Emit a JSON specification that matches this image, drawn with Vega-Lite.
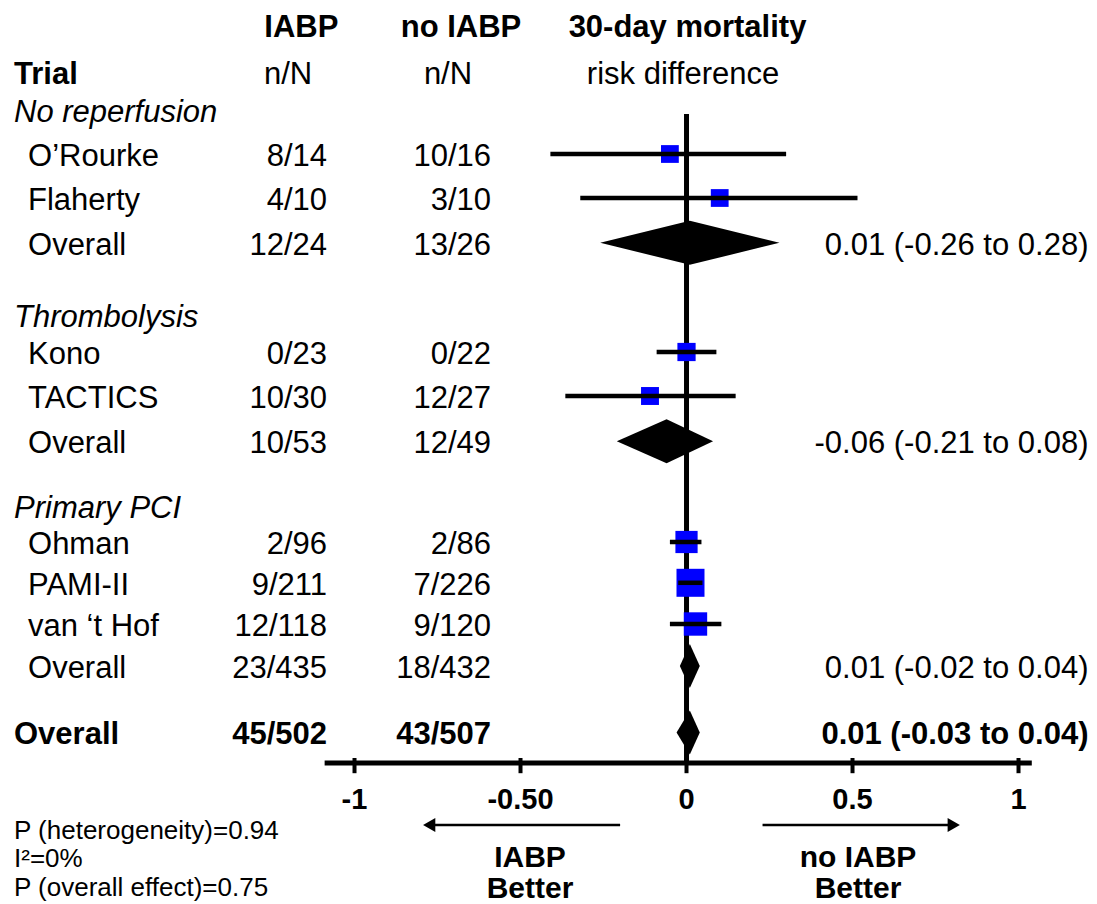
{
  "$schema": "https://vega.github.io/schema/vega-lite/v6.json",
  "width": 1097,
  "height": 904,
  "autosize": {"type": "none"},
  "padding": 0,
  "background": "white",
  "config": {"view": {"stroke": null}, "font": "Liberation Sans", "text": {"font": "Liberation Sans", "fontSize": 31, "color": "black", "baseline": "middle"}},
  "datasets": {
    "rows": [
      {"id": "g1", "label": "No reperfusion", "kind": "group", "row": 2.75},
      {"id": "orourke", "label": "O’Rourke", "kind": "trial", "row": 3.85, "iabp": "8/14", "noiabp": "10/16", "rd": -0.05, "lo": -0.41, "hi": 0.30, "weight": 1.5},
      {"id": "flaherty", "label": "Flaherty", "kind": "trial", "row": 4.95, "iabp": "4/10", "noiabp": "3/10", "rd": 0.10, "lo": -0.32, "hi": 0.515, "weight": 1.5},
      {"id": "ov1", "label": "Overall", "kind": "subtotal", "row": 6.07, "iabp": "12/24", "noiabp": "13/26", "rd": 0.01, "lo": -0.26, "hi": 0.28, "result": "0.01 (-0.26 to 0.28)"},
      {"id": "g2", "label": "Thrombolysis", "kind": "group", "row": 7.875},
      {"id": "kono", "label": "Kono", "kind": "trial", "row": 8.8, "iabp": "0/23", "noiabp": "0/22", "rd": 0.0, "lo": -0.09, "hi": 0.09, "weight": 3},
      {"id": "tactics", "label": "TACTICS", "kind": "trial", "row": 9.9, "iabp": "10/30", "noiabp": "12/27", "rd": -0.11, "lo": -0.365, "hi": 0.148, "weight": 2},
      {"id": "ov2", "label": "Overall", "kind": "subtotal", "row": 11.03, "iabp": "10/53", "noiabp": "12/49", "rd": -0.06, "lo": -0.21, "hi": 0.08, "result": "-0.06 (-0.21 to 0.08)"},
      {"id": "g3", "label": "Primary PCI", "kind": "group", "row": 12.65},
      {"id": "ohman", "label": "Ohman", "kind": "trial", "row": 13.55, "iabp": "2/96", "noiabp": "2/86", "rd": 0.0, "lo": -0.05, "hi": 0.045, "weight": 18},
      {"id": "pami", "label": "PAMI-II", "kind": "trial", "row": 14.57, "iabp": "9/211", "noiabp": "7/226", "rd": 0.012, "lo": -0.025, "hi": 0.048, "weight": 45},
      {"id": "vanthof", "label": "van ‘t Hof", "kind": "trial", "row": 15.6, "iabp": "12/118", "noiabp": "9/120", "rd": 0.027, "lo": -0.05, "hi": 0.105, "weight": 23},
      {"id": "ov3", "label": "Overall", "kind": "subtotal", "row": 16.65, "iabp": "23/435", "noiabp": "18/432", "rd": 0.01, "lo": -0.02, "hi": 0.04, "result": "0.01 (-0.02 to 0.04)"},
      {"id": "total", "label": "Overall", "kind": "total", "row": 18.31, "iabp": "45/502", "noiabp": "43/507", "rd": 0.01, "lo": -0.03, "hi": 0.04, "result": "0.01 (-0.03 to 0.04)"}
    ],
    "ticks": [
      {"tick": -1, "label": "-1"},
      {"tick": -0.5, "label": "-0.50"},
      {"tick": 0, "label": "0"},
      {"tick": 0.5, "label": "0.5"},
      {"tick": 1, "label": "1"}
    ]
  },
  "encoding": {
    "x": {"type": "quantitative", "scale": {"type": "linear", "domain": [-2.0678, 1.2364], "nice": false, "zero": false}, "axis": null},
    "y": {"type": "quantitative", "scale": {"type": "linear", "domain": [0, 22.6], "nice": false, "zero": false, "reverse": true}, "axis": null}
  },
  "layer": [
    {
      "data": {"values": [{}]},
      "mark": {"type": "rule", "color": "black", "strokeWidth": 5},
      "encoding": {"x": {"datum": 0, "type": "quantitative"}, "y": {"datum": 2.85, "type": "quantitative"}, "y2": {"datum": 19.075}}
    },
    {
      "data": {"values": [{}]},
      "mark": {"type": "rule", "color": "black", "strokeWidth": 5},
      "encoding": {"x": {"datum": -1.09, "type": "quantitative"}, "x2": {"datum": 1.04}, "y": {"datum": 19.075, "type": "quantitative"}}
    },
    {
      "data": {"name": "ticks"},
      "mark": {"type": "rule", "color": "black", "strokeWidth": 4},
      "encoding": {"x": {"field": "tick", "type": "quantitative"}, "y": {"datum": 18.95, "type": "quantitative"}, "y2": {"datum": 19.33}}
    },
    {
      "data": {"name": "ticks"},
      "mark": {"type": "text", "fontWeight": "bold", "fontSize": 29, "align": "center"},
      "encoding": {"x": {"field": "tick", "type": "quantitative"}, "y": {"datum": 20.0, "type": "quantitative"}, "text": {"field": "label"}}
    },
    {
      "data": {"name": "rows"},
      "transform": [{"filter": "datum.kind == 'trial'"}],
      "mark": {"type": "square", "filled": true, "color": "#0000FF", "opacity": 1},
      "encoding": {
        "x": {"field": "rd", "type": "quantitative"},
        "y": {"field": "row", "type": "quantitative"},
        "size": {"field": "weight", "type": "quantitative", "scale": {"type": "linear", "domain": [0, 45], "range": [300, 784], "zero": false}, "legend": null}
      }
    },
    {
      "data": {"name": "rows"},
      "transform": [{"filter": "datum.kind == 'trial'"}],
      "mark": {"type": "rule", "color": "black", "strokeWidth": 4.5},
      "encoding": {
        "x": {"field": "lo", "type": "quantitative"},
        "x2": {"field": "hi"},
        "y": {"field": "row", "type": "quantitative"}
      }
    },
    {
      "data": {"name": "rows"},
      "transform": [{"filter": "datum.kind == 'subtotal' || datum.kind == 'total'"}, {"fold": ["lo", "rd", "hi"], "as": ["key", "value"]}],
      "mark": {"type": "area", "orient": "vertical", "color": "black", "opacity": 1, "yOffset": {"expr": "datum.key == 'rd' ? -22 : 0"}, "y2Offset": {"expr": "datum.key == 'rd' ? 22 : 0"}},
      "encoding": {
        "x": {"field": "value", "type": "quantitative"},
        "y": {"field": "row", "type": "quantitative"},
        "y2": {"field": "row"},
        "detail": {"field": "id"}
      }
    },
    {
      "data": {"name": "rows"},
      "transform": [{"filter": "datum.kind == 'group'"}],
      "mark": {"type": "text", "align": "left", "fontStyle": "italic", "dy": 3},
      "encoding": {"x": {"datum": -2.0256, "type": "quantitative"}, "y": {"field": "row", "type": "quantitative"}, "text": {"field": "label"}}
    },
    {
      "data": {"name": "rows"},
      "transform": [{"filter": "datum.kind == 'trial' || datum.kind == 'subtotal'"}],
      "mark": {"type": "text", "align": "left", "dy": 3},
      "encoding": {"x": {"datum": -1.9834, "type": "quantitative"}, "y": {"field": "row", "type": "quantitative"}, "text": {"field": "label"}}
    },
    {
      "data": {"name": "rows"},
      "transform": [{"filter": "datum.kind == 'trial' || datum.kind == 'subtotal'"}],
      "mark": {"type": "text", "align": "right", "dy": 3},
      "encoding": {"x": {"datum": -1.0828, "type": "quantitative"}, "y": {"field": "row", "type": "quantitative"}, "text": {"field": "iabp"}}
    },
    {
      "data": {"name": "rows"},
      "transform": [{"filter": "datum.kind == 'trial' || datum.kind == 'subtotal'"}],
      "mark": {"type": "text", "align": "right", "dy": 3},
      "encoding": {"x": {"datum": -0.5889, "type": "quantitative"}, "y": {"field": "row", "type": "quantitative"}, "text": {"field": "noiabp"}}
    },
    {
      "data": {"name": "rows"},
      "transform": [{"filter": "datum.kind == 'subtotal'"}],
      "mark": {"type": "text", "align": "right", "dy": 3},
      "encoding": {"x": {"datum": 1.2108, "type": "quantitative"}, "y": {"field": "row", "type": "quantitative"}, "text": {"field": "result"}}
    },
    {
      "data": {"name": "rows"},
      "transform": [{"filter": "datum.kind == 'total'"}],
      "mark": {"type": "text", "align": "left", "fontWeight": "bold", "dy": 3},
      "encoding": {"x": {"datum": -2.0256, "type": "quantitative"}, "y": {"field": "row", "type": "quantitative"}, "text": {"field": "label"}}
    },
    {
      "data": {"name": "rows"},
      "transform": [{"filter": "datum.kind == 'total'"}],
      "mark": {"type": "text", "align": "right", "fontWeight": "bold", "dy": 3},
      "encoding": {"x": {"datum": -1.0828, "type": "quantitative"}, "y": {"field": "row", "type": "quantitative"}, "text": {"field": "iabp"}}
    },
    {
      "data": {"name": "rows"},
      "transform": [{"filter": "datum.kind == 'total'"}],
      "mark": {"type": "text", "align": "right", "fontWeight": "bold", "dy": 3},
      "encoding": {"x": {"datum": -0.5889, "type": "quantitative"}, "y": {"field": "row", "type": "quantitative"}, "text": {"field": "noiabp"}}
    },
    {
      "data": {"name": "rows"},
      "transform": [{"filter": "datum.kind == 'total'"}],
      "mark": {"type": "text", "align": "right", "fontWeight": "bold", "dy": 3},
      "encoding": {"x": {"datum": 1.2108, "type": "quantitative"}, "y": {"field": "row", "type": "quantitative"}, "text": {"field": "result"}}
    },
    {
      "data": {"values": [{}]},
      "mark": {"type": "text", "align": "center", "fontWeight": "bold", "text": "IABP", "dy": 3},
      "encoding": {"x": {"datum": -1.16, "type": "quantitative"}, "y": {"datum": 0.625, "type": "quantitative"}}
    },
    {
      "data": {"values": [{}]},
      "mark": {"type": "text", "align": "center", "fontWeight": "bold", "text": "no IABP", "dy": 3},
      "encoding": {"x": {"datum": -0.6792, "type": "quantitative"}, "y": {"datum": 0.625, "type": "quantitative"}}
    },
    {
      "data": {"values": [{}]},
      "mark": {"type": "text", "align": "center", "fontWeight": "bold", "text": "30-day mortality", "dy": 3},
      "encoding": {"x": {"datum": 0.003, "type": "quantitative"}, "y": {"datum": 0.625, "type": "quantitative"}}
    },
    {
      "data": {"values": [{}]},
      "mark": {"type": "text", "align": "left", "fontWeight": "bold", "text": "Trial", "dy": 3},
      "encoding": {"x": {"datum": -2.0256, "type": "quantitative"}, "y": {"datum": 1.8, "type": "quantitative"}}
    },
    {
      "data": {"values": [{}]},
      "mark": {"type": "text", "align": "center", "text": "n/N", "dy": 3},
      "encoding": {"x": {"datum": -1.2003, "type": "quantitative"}, "y": {"datum": 1.8, "type": "quantitative"}}
    },
    {
      "data": {"values": [{}]},
      "mark": {"type": "text", "align": "center", "text": "n/N", "dy": 3},
      "encoding": {"x": {"datum": -0.7184, "type": "quantitative"}, "y": {"datum": 1.8, "type": "quantitative"}}
    },
    {
      "data": {"values": [{}]},
      "mark": {"type": "text", "align": "center", "text": "risk difference", "dy": 3},
      "encoding": {"x": {"datum": -0.0105, "type": "quantitative"}, "y": {"datum": 1.8, "type": "quantitative"}}
    },
    {
      "data": {"values": [{}]},
      "mark": {"type": "rule", "color": "black", "strokeWidth": 2.5},
      "encoding": {"x": {"datum": -0.2, "type": "quantitative"}, "x2": {"datum": -0.76}, "y": {"datum": 20.625, "type": "quantitative"}}
    },
    {
      "data": {"values": [{}]},
      "mark": {"type": "rule", "color": "black", "strokeWidth": 2.5},
      "encoding": {"x": {"datum": 0.229, "type": "quantitative"}, "x2": {"datum": 0.79}, "y": {"datum": 20.625, "type": "quantitative"}}
    },
    {
      "data": {"values": [{}]},
      "mark": {"type": "point", "shape": "triangle-left", "filled": true, "color": "black", "opacity": 1, "size": 200},
      "encoding": {"x": {"datum": -0.775, "type": "quantitative"}, "y": {"datum": 20.625, "type": "quantitative"}}
    },
    {
      "data": {"values": [{}]},
      "mark": {"type": "point", "shape": "triangle-right", "filled": true, "color": "black", "opacity": 1, "size": 200},
      "encoding": {"x": {"datum": 0.805, "type": "quantitative"}, "y": {"datum": 20.625, "type": "quantitative"}}
    },
    {
      "data": {"values": [{}]},
      "mark": {"type": "text", "align": "center", "fontWeight": "bold", "fontSize": 30, "text": "IABP"},
      "encoding": {"x": {"datum": -0.4714, "type": "quantitative"}, "y": {"datum": 21.45, "type": "quantitative"}}
    },
    {
      "data": {"values": [{}]},
      "mark": {"type": "text", "align": "center", "fontWeight": "bold", "fontSize": 30, "text": "Better"},
      "encoding": {"x": {"datum": -0.4714, "type": "quantitative"}, "y": {"datum": 22.22, "type": "quantitative"}}
    },
    {
      "data": {"values": [{}]},
      "mark": {"type": "text", "align": "center", "fontWeight": "bold", "fontSize": 30, "text": "no IABP"},
      "encoding": {"x": {"datum": 0.5166, "type": "quantitative"}, "y": {"datum": 21.45, "type": "quantitative"}}
    },
    {
      "data": {"values": [{}]},
      "mark": {"type": "text", "align": "center", "fontWeight": "bold", "fontSize": 30, "text": "Better"},
      "encoding": {"x": {"datum": 0.5166, "type": "quantitative"}, "y": {"datum": 22.22, "type": "quantitative"}}
    },
    {
      "data": {"values": [{}]},
      "mark": {"type": "text", "align": "left", "fontSize": 26, "text": "P (heterogeneity)=0.94"},
      "encoding": {"x": {"datum": -2.0256, "type": "quantitative"}, "y": {"datum": 20.78, "type": "quantitative"}}
    },
    {
      "data": {"values": [{}]},
      "mark": {"type": "text", "align": "left", "fontSize": 26, "text": "I²=0%"},
      "encoding": {"x": {"datum": -2.0256, "type": "quantitative"}, "y": {"datum": 21.47, "type": "quantitative"}}
    },
    {
      "data": {"values": [{}]},
      "mark": {"type": "text", "align": "left", "fontSize": 26, "text": "P (overall effect)=0.75"},
      "encoding": {"x": {"datum": -2.0256, "type": "quantitative"}, "y": {"datum": 22.2, "type": "quantitative"}}
    }
  ]
}
